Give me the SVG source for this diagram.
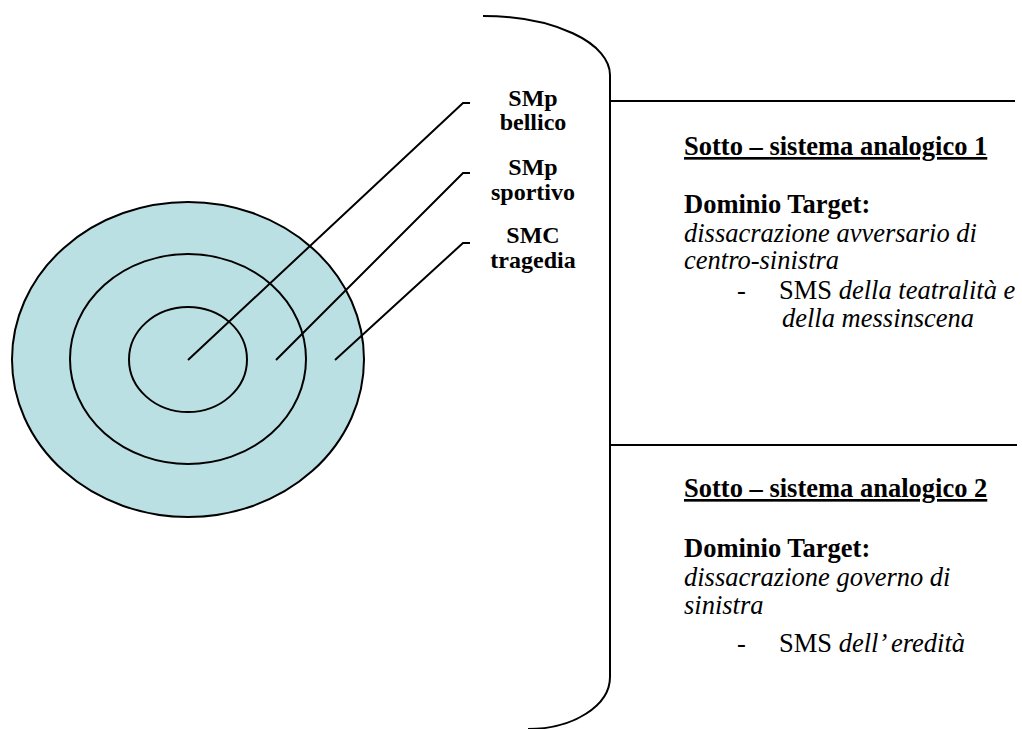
<svg xmlns="http://www.w3.org/2000/svg" width="1022" height="729" viewBox="0 0 1022 729">
<style>
.ln{fill:none;stroke:#000;stroke-width:2}
.ring{fill:none;stroke:#000;stroke-width:2}
.lbl{font-family:'Liberation Serif','Times New Roman',Times,serif;font-weight:bold;font-size:24px;text-anchor:middle;fill:#000}
.t{font-family:'Liberation Serif','Times New Roman',Times,serif;font-size:26.5px;fill:#000}
.b{font-weight:bold}
.u{font-weight:bold;text-decoration:underline}
.i{font-style:italic}
</style>
<rect width="1022" height="729" fill="#fff"/>
<g id="target">
<ellipse cx="188" cy="359.5" rx="176" ry="157.5" fill="#BBE0E3" stroke="#000" stroke-width="2"/>
<ellipse class="ring" cx="188" cy="359" rx="118" ry="105"/>
<ellipse class="ring" cx="188" cy="359.5" rx="59" ry="52.5"/>
</g>
<g id="frame">
<path class="ln" d="M483,16 A127,59 0 0 1 610,75 L610,677 A82,52 0 0 1 528,729"/>
<line class="ln" x1="610" y1="101" x2="1015" y2="101"/>
<line class="ln" x1="610" y1="445" x2="1017" y2="445"/>
</g>
<g id="connectors">
<polyline class="ln" points="188,360 463,103 470,103"/>
<polyline class="ln" points="276,360 463,173 470,173"/>
<polyline class="ln" points="335,360 463,243 470,243"/>
</g>
<g id="label-bellico">
<text class="lbl" x="533" y="106">SMp</text>
<text class="lbl" x="533" y="130">bellico</text>
</g>
<g id="label-sportivo">
<text class="lbl" x="533" y="175">SMp</text>
<text class="lbl" x="533" y="200">sportivo</text>
</g>
<g id="label-tragedia">
<text class="lbl" x="533" y="243">SMC</text>
<text class="lbl" x="533" y="268">tragedia</text>
</g>
<g id="sottosistema-1">
<text class="t u" x="684" y="155">Sotto – sistema analogico 1</text>
<text class="t b" x="684" y="213">Dominio Target:</text>
<text class="t i" x="684" y="242">dissacrazione avversario di</text>
<text class="t i" x="684" y="269">centro-sinistra</text>
<text class="t" x="737" y="299">-</text>
<text class="t" x="779" y="299">SMS <tspan class="i">della teatralità e</tspan></text>
<text class="t i" x="782" y="327">della messinscena</text>
</g>
<g id="sottosistema-2">
<text class="t u" x="684" y="497">Sotto – sistema analogico 2</text>
<text class="t b" x="684" y="557">Dominio Target:</text>
<text class="t i" x="684" y="586">dissacrazione governo di</text>
<text class="t i" x="684" y="614">sinistra</text>
<text class="t" x="737" y="652">-</text>
<text class="t" x="779" y="652">SMS <tspan class="i">dell’ eredità</tspan></text>
</g>
</svg>
